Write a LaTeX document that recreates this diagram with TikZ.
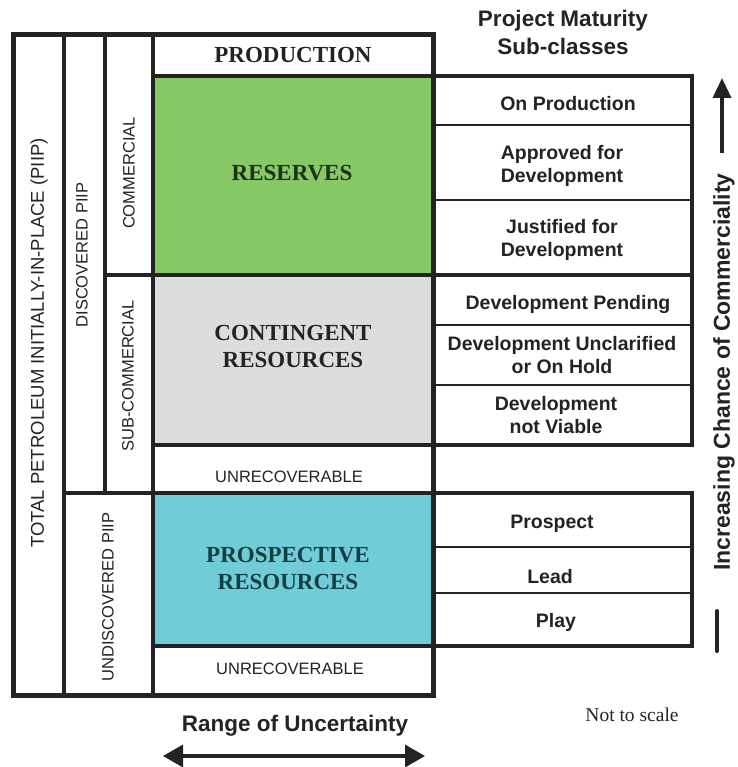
\documentclass[tikz,border=0pt]{standalone}
\usepackage{fontspec}
\setmainfont{Liberation Serif}
\setsansfont{Liberation Sans}
\usepackage{xcolor}
\definecolor{prmsgreen}{RGB}{134,199,102}
\definecolor{prmsgrey}{RGB}{220,221,223}
\definecolor{prmscyan}{RGB}{112,204,214}
\definecolor{prmsink}{RGB}{35,35,35}
\definecolor{prmsdkgreen}{RGB}{28,48,28}
\definecolor{prmsteal}{RGB}{18,62,68}
\usetikzlibrary{arrows.meta}

\begin{document}
\begin{tikzpicture}[x=1pt, y=-1pt,
  every node/.style={text=prmsink, align=center, inner sep=0pt},
  classlabel/.style={font=\fontsize{23}{27}\selectfont\bfseries},
  sidelabel/.style={font=\sffamily\fontsize{16.5}{20}\selectfont, rotate=90},
  subclass/.style={font=\sffamily\bfseries\fontsize{19.5}{23}\selectfont},
  heading/.style={font=\sffamily\bfseries\fontsize{22.5}{28}\selectfont},
  frame/.style={line width=5pt, draw=prmsink},
  rule/.style={line width=4pt, draw=prmsink},
  thinrule/.style={line width=2.5pt, draw=prmsink}]

  \useasboundingbox (0,0) rectangle (737,767);

  % Class fills
  \fill[prmsgreen] (153,76) rectangle (433,275);
  \fill[prmsgrey] (153,275) rectangle (433,445);
  \fill[prmscyan] (153,493) rectangle (433,646);

  % Resource classification frame
  \draw[frame] (13,35) rectangle (433,695);
  \draw[rule] (64,35) -- (64,695);
  \draw[rule] (105,35) -- (105,493);
  \draw[rule] (153,35) -- (153,695);
  \draw[rule] (153,76) -- (433,76);
  \draw[rule] (105,275) -- (433,275);
  \draw[rule] (153,445) -- (433,445);
  \draw[rule] (64,493) -- (433,493);
  \draw[rule] (153,646) -- (433,646);

  % Project maturity sub-classes
  \draw[rule] (433,76) rectangle (692,445);
  \foreach \y in {125,200,325,385}
    \draw[thinrule] (433,\y) -- (692,\y);
  \draw[rule] (433,275) -- (692,275);
  \draw[rule] (433,493) rectangle (692,646);
  \foreach \y in {547,593}
    \draw[thinrule] (433,\y) -- (692,\y);

  % Class labels
  \node[classlabel] (prod) at (293,55) {PRODUCTION};
  \node[classlabel, text=prmsdkgreen] (res) at (292,173) {RESERVES};
  \node[classlabel] (cont) at (293,346) {CONTINGENT\\RESOURCES};
  \node[classlabel, text=prmsteal] (prosp) at (288,568) {PROSPECTIVE\\RESOURCES};
  \node[font=\sffamily\fontsize{16.5}{20}\selectfont] (unrecA) at (289,477) {UNRECOVERABLE};
  \node[font=\sffamily\fontsize{16.5}{20}\selectfont] (unrecB) at (290,669) {UNRECOVERABLE};

  % Side labels
  \node[sidelabel, font=\sffamily\fontsize{18.5}{22}\selectfont] (piip) at (39,343) {TOTAL PETROLEUM INITIALLY-IN-PLACE (PIIP)};
  \node[sidelabel] (disc) at (82,255) {DISCOVERED PIIP};
  \node[sidelabel] (comm) at (129,173) {COMMERCIAL};
  \node[sidelabel] (subcomm) at (128,376) {SUB-COMMERCIAL};
  \node[sidelabel] (undisc) at (108,597) {UNDISCOVERED PIIP};

  % Sub-class labels
  \node[heading] (maturity) at (563,32) {Project Maturity\\Sub-classes};
  \node[subclass] (onprod) at (568,104) {On Production};
  \node[subclass] (approved) at (562,166) {Approved for\\Development};
  \node[subclass] (justified) at (562,240) {Justified for\\Development};
  \node[subclass] (pending) at (568,304) {Development Pending};
  \node[subclass] (unclar) at (562,355) {Development Unclarified\\or On Hold};
  \node[subclass] (notviable) at (556,415) {Development\\not Viable};
  \node[subclass] (prospect) at (552,524) {Prospect};
  \node[subclass] (lead) at (550,577) {Lead};
  \node[subclass] (play) at (556,622) {Play};

  % Axes
  \node[font=\sffamily\bfseries\fontsize{23}{27}\selectfont, rotate=90] (chance) at (724,372) {Increasing Chance of Commerciality};
  \coordinate (chanceLow) at (722,153);
  \coordinate (chanceTop) at (722,78);
  \draw[line width=3.5pt, draw=prmsink, -{Triangle[length=20pt, width=18pt]}] (chanceLow) -- (chanceTop);
  \coordinate (barTop) at (717,611);
  \coordinate (barLow) at (717,651);
  \draw[line width=4pt, draw=prmsink, line cap=round] (barTop) -- (barLow);

  \node[font=\sffamily\bfseries\fontsize{22.5}{27}\selectfont] (range) at (295,726) {Range of Uncertainty};
  \coordinate (rangeLeft) at (163,756);
  \coordinate (rangeRight) at (425,756);
  \draw[line width=3.5pt, draw=prmsink, {Triangle[length=20pt, width=22pt]}-{Triangle[length=20pt, width=22pt]}] (rangeLeft) -- (rangeRight);

  \node[font=\fontsize{19.5}{23}\selectfont] (scale) at (632,715) {Not to scale};

\end{tikzpicture}
\end{document}
